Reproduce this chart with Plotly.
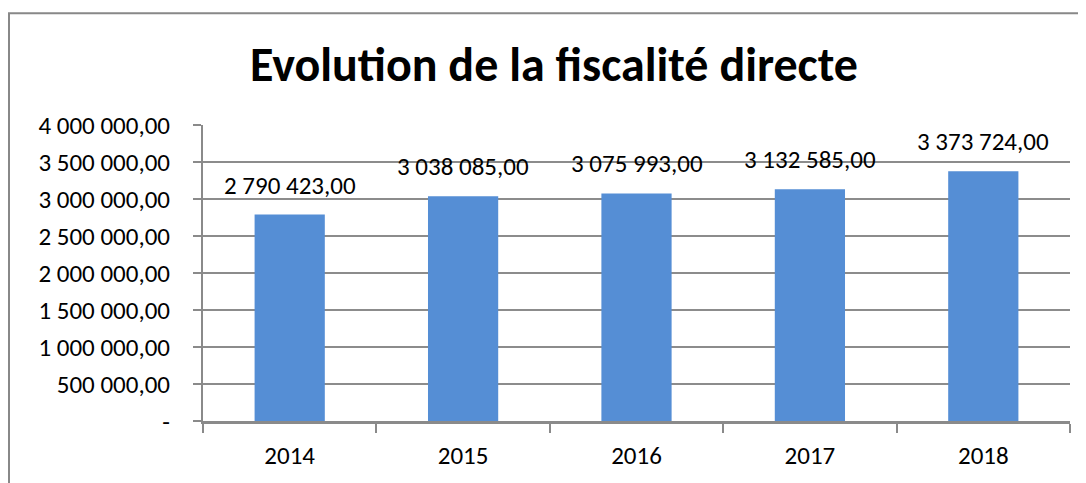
import plotly.graph_objects as go

years = ["2014", "2015", "2016", "2017", "2018"]
values = [2790423.00, 3038085.00, 3075993.00, 3132585.00, 3373724.00]
tick_vals = [0, 500000, 1000000, 1500000, 2000000, 2500000, 3000000, 3500000, 4000000]
title_text = "Evolution de la fiscalité directe"


def fr(v):
    return f"{v:,.2f}".replace(",", " ").replace(".", ",")


tick_text = ["-" if v == 0 else fr(v) for v in tick_vals]
FONT = "Calibri, Carlito, Lato, sans-serif"

# the page body has an 8px margin, so the figure is laid out 8px smaller
W, H = 1078, 475
L, R, T, B = 195, 16, 117, 60
PW, PH = W - L - R, H - T - B

fig = go.Figure()
fig.add_trace(go.Bar(x=years, y=values, marker=dict(color="#558ED5", line=dict(width=0)),
                     hoverinfo="skip"))

for i, v in enumerate(values):
    fig.add_annotation(x=i, y=v, text=fr(v), showarrow=False, yanchor="bottom",
                       yshift=12, font=dict(size=25, color="#000000", family=FONT))

# outer chart frame
fig.add_shape(type="rect", xref="paper", yref="paper",
              x0=(1 - L) / PW, x1=1.2, y0=-0.6, y1=(T + PH - 4.5) / PH,
              line=dict(color="#888888", width=2), layer="below")

fig.update_layout(
    width=W, height=H,
    margin=dict(l=L, r=R, t=T, b=B),
    paper_bgcolor="white", plot_bgcolor="white",
    showlegend=False,
    bargap=0.595,
    title=dict(text="<b>" + title_text + "</b>", x=546 / W, xanchor="center",
               y=1 - 56 / H, yanchor="middle", yref="container",
               font=dict(size=48, color="#000000", family=FONT)),
    font=dict(family=FONT, size=25, color="#000000"),
)
fig.update_yaxes(range=[0, 4000000], tickvals=tick_vals, ticktext=tick_text,
                 showgrid=True, gridcolor="#8c8c8c", gridwidth=1.5,
                 showline=True, linecolor="#8a8a8a", linewidth=2,
                 ticks="outside", ticklen=8, tickcolor="#8a8a8a", tickwidth=2,
                 ticklabelstandoff=18, zeroline=False,
                 tickfont=dict(size=25, family=FONT, color="#000000"))
fig.update_xaxes(type="category", range=[-0.5, 4.5], showline=True, linecolor="#8a8a8a",
                 linewidth=2.5, ticks="outside", tickson="boundaries", ticklen=9,
                 tickcolor="#8a8a8a", tickwidth=2, showgrid=False,
                 ticklabelstandoff=10,
                 tickfont=dict(size=25, family=FONT, color="#000000"))

fig.write_html("out.html")
